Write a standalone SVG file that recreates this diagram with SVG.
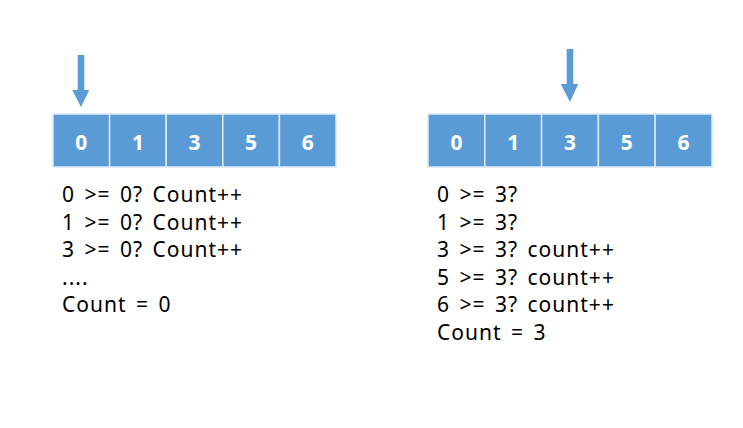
<svg xmlns="http://www.w3.org/2000/svg" width="743" height="428" viewBox="0 0 743 428">
<style>
.box{fill:#5B9BD5;stroke:#DCE9F5;stroke-width:1.5}
.num{font-family:"Noto Sans","Open Sans",sans-serif;font-weight:bold;font-size:21px;fill:#fff;text-anchor:middle}
.t{font-family:"Noto Sans","Open Sans",sans-serif;font-size:21px;letter-spacing:1px;word-spacing:3px;fill:#000}
.arr{fill:#5B9BD5}
</style>
<rect width="743" height="428" fill="#fff"/>
<g id="left-array">
<g id="l0"><rect class="box" x="53" y="114" width="56.6" height="53"/><text class="num" x="81.3" y="149.5">0</text></g>
<g id="l1"><rect class="box" x="109.6" y="114" width="56.6" height="53"/><text class="num" x="137.9" y="149.5">1</text></g>
<g id="l2"><rect class="box" x="166.2" y="114" width="56.6" height="53"/><text class="num" x="194.5" y="149.5">3</text></g>
<g id="l3"><rect class="box" x="222.8" y="114" width="56.6" height="53"/><text class="num" x="251.1" y="149.5">5</text></g>
<g id="l4"><rect class="box" x="279.4" y="114" width="56.6" height="53"/><text class="num" x="307.7" y="149.5">6</text></g>
</g>
<g id="right-array">
<g id="r0"><rect class="box" x="428" y="114" width="56.8" height="53"/><text class="num" x="456.4" y="149.5">0</text></g>
<g id="r1"><rect class="box" x="484.8" y="114" width="56.8" height="53"/><text class="num" x="513.2" y="149.5">1</text></g>
<g id="r2"><rect class="box" x="541.6" y="114" width="56.8" height="53"/><text class="num" x="570" y="149.5">3</text></g>
<g id="r3"><rect class="box" x="598.4" y="114" width="56.8" height="53"/><text class="num" x="626.8" y="149.5">5</text></g>
<g id="r4"><rect class="box" x="655.2" y="114" width="56.8" height="53"/><text class="num" x="683.6" y="149.5">6</text></g>
</g>
<g id="connectors">
<path class="arr" d="M77.7,55 H84.3 V90 H89.3 L81,107 L72.3,90 H77.7 Z"/>
<path class="arr" d="M566.7,49 H573.3 V84 H578.3 L570,102 L560.7,84 H566.7 Z"/>
</g>
<g id="left-text">
<text class="t" x="62" y="202">0 &gt;= 0? Count++</text>
<text class="t" x="62" y="229.5">1 &gt;= 0? Count++</text>
<text class="t" x="62" y="257">3 &gt;= 0? Count++</text>
<text class="t" x="62" y="284.5">....</text>
<text class="t" x="62" y="312">Count = 0</text>
</g>
<g id="right-text">
<text class="t" x="437" y="202">0 &gt;= 3?</text>
<text class="t" x="437" y="229.5">1 &gt;= 3?</text>
<text class="t" x="437" y="257">3 &gt;= 3? count++</text>
<text class="t" x="437" y="284.5">5 &gt;= 3? count++</text>
<text class="t" x="437" y="312">6 &gt;= 3? count++</text>
<text class="t" x="437" y="339.5">Count = 3</text>
</g>
</svg>
